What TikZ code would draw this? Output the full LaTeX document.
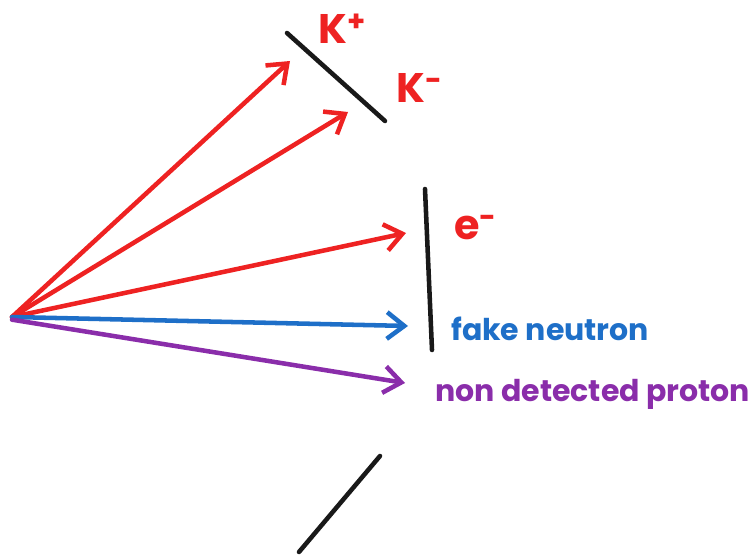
\documentclass[tikz,border=0pt]{standalone}
\usepackage{fontspec}
\setmainfont{Poppins}
\usetikzlibrary{arrows.meta}
\definecolor{kaonred}{HTML}{EE2222}
\definecolor{neutronblue}{HTML}{1E6FC8}
\definecolor{protonviolet}{HTML}{8A2DAA}
\tikzset{
  track/.style={line width=3.4pt, line cap=round, line join=round, -{Straight Barb[length=13pt, width=20pt]}},
  detector/.style={line width=3.4pt, line cap=round, black!90},
  biglabel/.style={anchor=west, inner sep=0pt, font=\bfseries\fontsize{31}{34}\selectfont, text=kaonred},
  smalllabel/.style={anchor=west, inner sep=0pt, font=\bfseries\fontsize{22.5}{26}\selectfont}
}

\begin{document}
\begin{tikzpicture}[x=0.75pt, y=-0.75pt]
  \useasboundingbox (0,0) rectangle (753,560);
  % interaction vertex
  \coordinate (vertex) at (12,317);
  % arrow ends
  \coordinate (kplus) at (290,61);
  \coordinate (kminus) at (348,112);
  \coordinate (elec) at (406,233);
  \coordinate (neut) at (408,326);
  \coordinate (prot) at (405,383);

  \draw[track, kaonred] (vertex) -- (kplus);
  \draw[track, kaonred] (vertex) -- (kminus);
  \draw[track, kaonred] (vertex) -- (elec);
  \draw[track, neutronblue] (vertex) -- (neut);
  \draw[track, protonviolet] ([yshift=-2pt]vertex) -- (prot);

  % detector planes
  \draw[detector] (287,33) -- (385,121);
  \draw[detector] (425,189) -- (432,350);
  \draw[detector] (380,456) -- (299,552);

  \node[biglabel] (kpluslabel) at (318,29) {K\textsuperscript{+}};
  \node[biglabel] (kminuslabel) at (396,88) {K\textsuperscript{-}};
  \node[biglabel] (eleclabel) at (454,228) {e\textsuperscript{-}};
  \node[smalllabel, text=neutronblue] (neutlabel) at (451,329) {fake neutron};
  \node[smalllabel, text=protonviolet] (protlabel) at (435,394) {non detected proton};
\end{tikzpicture}
\end{document}
